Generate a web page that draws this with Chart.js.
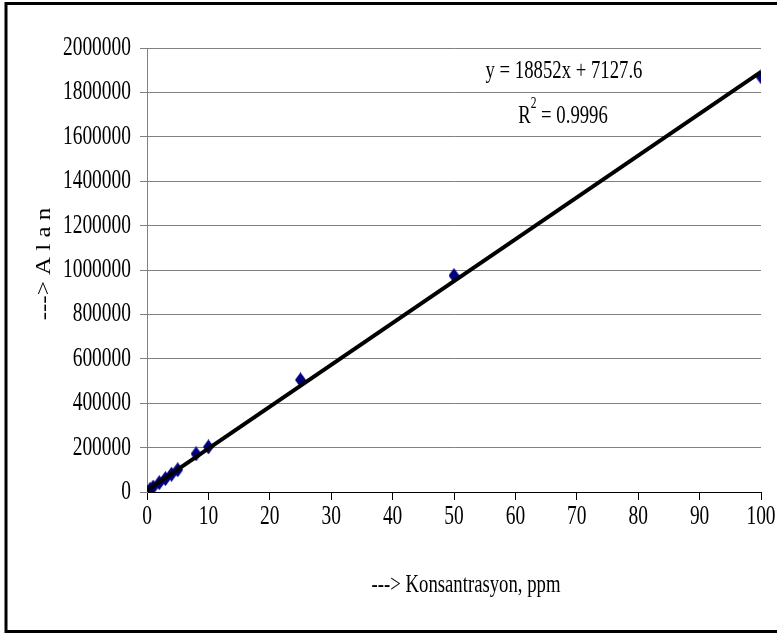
<!DOCTYPE html>
<html>
<head>
<meta charset="utf-8">
<script src="https://cdn.jsdelivr.net/npm/chart.js@4"></script>
<style>
  html, body { margin: 0; padding: 0; background: #fff; }
  #wrap { width: 777px; height: 634px; }
</style>
</head>
<body>
<div id="wrap"><canvas id="calChart" width="777" height="634"></canvas></div>
<script>
// Calibration standards: concentration (ppm) vs peak area
const concentrations = [0, 0.5, 1, 2, 3, 4, 5, 8, 10, 25, 50, 100];
const areas = [0, 12000, 22000, 42000, 60000, 80000, 100000, 172000, 203000, 505000, 975000, 1870000];

// Linear trendline coefficients (as printed on the chart)
const slope = 18852;
const intercept = 7127.6;
const rSquared = 0.9996;

const xTicks = [0, 10, 20, 30, 40, 50, 60, 70, 80, 90, 100];
const yTicks = [0, 200000, 400000, 600000, 800000, 1000000, 1200000, 1400000, 1600000, 1800000, 2000000];

const xTitle = '---> Konsantrasyon, ppm';
const yTitle = '---> A l a n';

const FONT = '"Liberation Serif", "Times New Roman", serif';
const SQUEEZE = 0.72; // narrow serif look

// narrow navy diamond marker
const diamond = document.createElement('canvas');
diamond.width = 11;
diamond.height = 15;
const dctx = diamond.getContext('2d');
dctx.fillStyle = '#000080';
dctx.beginPath();
dctx.moveTo(5.5, 0);
dctx.lineTo(11, 7.5);
dctx.lineTo(5.5, 15);
dctx.lineTo(0, 7.5);
dctx.closePath();
dctx.fill();

function squeezedText(ctx, text, x, y, size, align) {
    ctx.save();
    ctx.translate(x, y);
    ctx.scale(SQUEEZE, 1);
    ctx.font = size + 'px ' + FONT;
    ctx.fillStyle = '#000';
    ctx.textAlign = align;
    ctx.textBaseline = 'middle';
    ctx.fillText(text, 0, 0);
    ctx.restore();
}

// white page, frame, tick labels, titles and the fit equation
const decorations = {
    id: 'decorations',
    beforeDraw(chart) {
        const ctx = chart.ctx;
        ctx.save();
        ctx.fillStyle = '#fff';
        ctx.fillRect(0, 0, chart.width, chart.height);
        ctx.restore();
    },
    afterDraw(chart) {
        const ctx = chart.ctx;
        const xs = chart.scales.x;
        const ys = chart.scales.y;

        xTicks.forEach(v => squeezedText(ctx, String(v), xs.getPixelForValue(v), 517, 27, 'center'));
        yTicks.forEach(v => squeezedText(ctx, String(v), 131, ys.getPixelForValue(v), 27, 'right'));

        squeezedText(ctx, xTitle, 466, 585, 26, 'center');

        // rotated y title
        ctx.save();
        ctx.translate(45, 264);
        ctx.scale(0.8, 1);
        ctx.rotate(-Math.PI / 2);
        ctx.font = '25px ' + FONT;
        ctx.fillStyle = '#000';
        ctx.textAlign = 'center';
        ctx.textBaseline = 'middle';
        ctx.fillText(yTitle, 0, 0);
        ctx.restore();

        // trendline equation and R squared
        squeezedText(ctx, 'y = ' + slope + 'x + ' + intercept, 564, 71, 26, 'center');
        ctx.save();
        ctx.font = '26px ' + FONT;
        const wR = ctx.measureText('R').width;
        const wRest = ctx.measureText(' = ' + rSquared).width;
        ctx.font = '16px ' + FONT;
        const w2 = ctx.measureText('2').width;
        ctx.restore();
        let x0 = 563 - (wR + w2 + wRest) * SQUEEZE / 2;
        squeezedText(ctx, 'R', x0, 116, 26, 'left');
        x0 += wR * SQUEEZE;
        squeezedText(ctx, '2', x0, 104, 16, 'left');
        x0 += w2 * SQUEEZE;
        squeezedText(ctx, ' = ' + rSquared, x0, 116, 26, 'left');

        // outer frame
        ctx.save();
        ctx.strokeStyle = '#000';
        ctx.lineWidth = 3;
        ctx.strokeRect(6, 3.5, 800, 628);
        ctx.restore();
    }
};

const ctx = document.getElementById('calChart').getContext('2d');
const calChart = new Chart(ctx, {
    type: 'scatter',
    data: {
        datasets: [
            {
                type: 'line',
                label: 'Linear fit',
                data: [0, 100].map(x => ({ x: x, y: slope * x + intercept })),
                borderColor: '#000',
                borderWidth: 4,
                pointRadius: 0,
                fill: false,
                order: 0
            },
            {
                label: 'Alan',
                data: concentrations.map((c, i) => ({ x: c, y: areas[i] })),
                pointStyle: diamond,
                pointRadius: 6,
                order: 1
            }
        ]
    },
    options: {
        responsive: false,
        animation: false,
        layout: { padding: { left: 0, right: 16, top: 48, bottom: 0 } },
        plugins: {
            legend: { display: false },
            tooltip: { enabled: false }
        },
        scales: {
            x: {
                type: 'linear',
                min: 0,
                max: 100,
                ticks: { stepSize: 10, display: false },
                grid: { drawOnChartArea: false, drawTicks: true, tickLength: 8, color: '#000' },
                border: { color: '#000', width: 1 },
                afterFit: scale => { scale.height = 142; }
            },
            y: {
                min: 0,
                max: 2000000,
                ticks: { stepSize: 200000, display: false },
                grid: { color: '#808080', tickLength: 7 },
                border: { color: '#808080', width: 1 },
                afterFit: scale => { scale.width = 147; }
            }
        }
    },
    plugins: [decorations]
});
</script>
</body>
</html>
